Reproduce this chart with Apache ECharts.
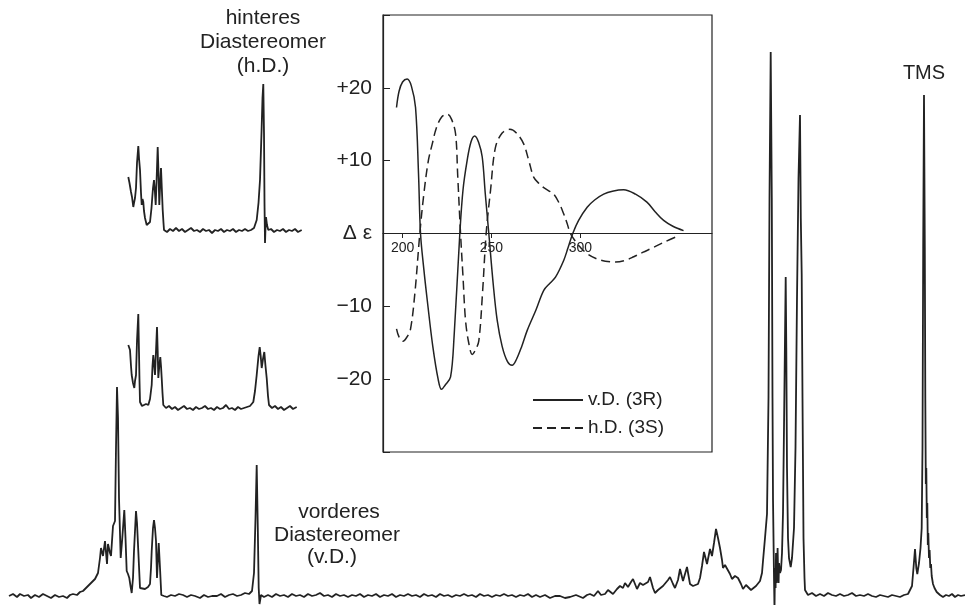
<!DOCTYPE html>
<html>
<head>
<meta charset="utf-8">
<script src="https://cdn.jsdelivr.net/npm/echarts@6/dist/echarts.min.js"></script>
<style>
  html, body { margin: 0; padding: 0; background: #fff; }
  #main { width: 965px; height: 605px; }
</style>
</head>
<body>
<div id="main"></div>
<script>
// NMR traces: [position, amplitude above baseline]
var vdTrace = [
  [9,2],[13,4],[17,1],[20,4],[24,2],[28,3],[31,0],[35,3],[39,1],[43,4],[47,2],[51,0],[55,3],[59,1],[63,2],[67,0],
  [70,3],[73,4],[77,3],[80,6],[83,7],[86,10],[88,12],[91,15],[93,13],[95,19],[98,25],[100,40],[101,50],[103,42],
  [105,57],[107,34],[108,54],[110,45],[111,42],[113,72],[115,77],[116,150],[117,211],[118,180],[119,100],[120.7,40],
  [122.3,60],[124.3,88],[125.5,60],[126.7,27],[128,24],[129.3,20],[130.5,12],[131.7,5],[133,20],[134,47],[136,87],
  [137,75],[138.3,47],[140,10],[142,8],[145,9],[148,11],[150,14],[151,30],[151.7,47],[153,70],[154,78],[155,70],
  [156,57],[157,20],[158,40],[158.7,55],[160,30],[161.3,3],[164,2],[167,1],[171,3],[175,2],[179,4],[183,3],[187,1],
  [191,3],[195,2],[200,0],[204,3],[208,1],[212,2],[217,2],[221,4],[225,1],[229,3],[233,4],[237,2],[241,3],[245,5],
  [249,4],[252,7],[254,25],[255.5,80],[256.7,133],[257.8,70],[258.7,10],[259.5,-6],[261,3],
  [264,1],[268,3],[272,1],[276,4],[280,2],[284,3],[288,1],[292,4],[296,2],[300,3],[304,1],[308,4],[312,2],[316,3],
  [320,5],[324,2],[328,3],[332,1],[336,4],[340,2],[344,3],[348,1],[352,3],[356,2],[360,4],[364,1],[368,3],[372,2],
  [376,4],[380,1],[384,3],[388,2],[392,4],[396,1],[400,3],[404,2],[408,4],[412,2],[416,3],[420,1],[424,4],[428,2],
  [432,3],[436,1],[440,4],[444,2],[448,3],[452,1],[456,3],[460,2],[464,4],[468,2],[472,3],[476,1],[480,4],[484,2],
  [488,3],[492,1],[496,3],[500,2],[504,4],[508,2],[512,3],[516,1],[520,3],[524,2],[528,4],[532,1],[536,3],[540,1],
  [545,3],[550,0],[555,2],[560,2],[565,0],[570,1],[576,3],[583,0],[587,3],[590,4],[594,2],[598,7],[601,3],[605,4],
  [608,8],[610,10],[613,4],[617,9],[620,12],[623,10],[625,15],[628,11],[631,16],[633,19],[637,9],[640,15],[643,13],
  [645,11],[648,16],[650,21],[653,10],[655,5],[658,8],[660,9],[663,12],[665,14],[668,18],[670,21],[673,14],[675,10],
  [678,18],[680,29],[683,17],[685,24],[687,31],[690,14],[693,12],[695,11],[698,14],[700,20],[702,32],[704,46],
  [707,34],[710,49],[712,42],[714,55],[716,69],[718,60],[720,50],[722,38],[723,30],[725,33],[727,32],[730,24],
  [732,19],[735,22],[738,20],[741,14],[743,9],[746,13],[748,11],[751,8],[753,9],[756,12],[758,14],[760,17],
  [762,25],[763,37],[765,60],[767,84],[768.5,200],[769.5,400],[770.7,546],[771.8,400],[772.5,200],[773,99],
  [773.5,60],[774,20],[774.5,-12],[775,30],[775.6,10],[776,45],[776.6,15],[777,23],[777.6,50],[778,30],[778.6,15],
  [779,35],[780,25],[781,28],[782,45],[783,85],[784,170],[785,260],[785.7,321],[786.3,250],[787,130],[788,60],
  [789,40],[790.7,31],[792,40],[794,70],[795.5,150],[797,300],[798.5,420],[800,483],[800.8,380],[801.7,324],
  [802.5,200],[803.5,60],[804.5,20],[805,8],[808,3],[812,5],[816,2],[820,4],[824,2],[828,5],[832,3],[836,2],
  [840,4],[844,2],[848,3],[852,5],[856,2],[860,3],[864,2],[868,4],[872,2],[876,1],[880,3],[884,2],[888,1],
  [892,3],[896,2],[900,1],[904,3],[908,4],[910,5],[912,12],[913.5,30],[915,49],[916.3,30],[917.3,24],[919,35],
  [920.5,50],[921.7,70],[922.5,150],[923.2,350],[924,503],[924.8,350],[925.3,200],[925.8,114],[926.3,130],
  [926.8,80],[927.3,95],[927.8,53],[928.3,65],[929,40],[929.6,48],[930.3,30],[931,34],[931.7,22],[933,14],
  [934.5,10],[936.7,6],[940,3],[943,1],[946,3],[949,2],[952,4],[955,1],[958,3],[961,2],[965,3]
];
var hdTrace = [
  [128.3,56],[129.5,50],[131,41],[132,36],[133.3,26],[134,30],[135,35],[136,45],[137,70],[138.3,87],[139,75],
  [140,63],[141,40],[141.7,28],[142.5,34],[143.3,31],[144,22],[145,15],[146.7,8],[148,9],[150,11],[151.5,25],
  [152.3,36],[153,45],[154,53],[155,40],[155.7,28],[156.5,50],[157.7,86],[158.5,60],[159.3,28],[160,45],[161,65],
  [161.8,45],[162.7,23],[163.5,10],[164,3],[167,1],[170,4],[173,2],[176,5],[179,2],[182,4],[185,1],[188,3],
  [191,5],[194,2],[197,3],[200,1],[203,4],[206,2],[209,3],[212,0],[215,3],[218,2],[221,4],[224,1],[227,3],
  [230,2],[233,4],[236,1],[239,3],[242,2],[245,4],[248,2],[251,3],[254,5],[256.7,13],[258.5,30],[260,53],
  [261.5,100],[262.5,135],[263.3,149],[264,100],[264.5,30],[265,-10],[265.5,5],[266,16],[267,8],[268.3,3],
  [271,4],[274,1],[277,3],[280,2],[283,4],[286,1],[289,3],[292,2],[295,4],[298,1],[301.7,3]
];
var midTrace = [
  [128.3,66],[130,61],[131,45],[131.7,36],[133,28],[134.3,23],[135,30],[136,36],[137,70],[138.3,97],[139,59],
  [139.5,30],[140,9],[142,5],[143.3,4],[146,7],[148.3,6],[150,12],[151.7,26],[152.5,45],[153.3,56],[154,48],
  [155,36],[156,60],[157,84],[157.7,60],[158.3,33],[159.3,45],[160.3,54],[161,45],[161.7,33],[162.5,18],
  [163.3,6],[166,3],[169,5],[172,2],[175,4],[178,1],[181,3],[184,5],[187,2],[190,3],[193,1],[196,4],[199,2],
  [202,3],[205,5],[208,2],[211,3],[214,1],[217,4],[220,2],[223,3],[226,6],[229,2],[232,3],[235,1],[238,4],
  [241,2],[244,3],[247,4],[250,5],[253.3,9],[255,20],[256.7,36],[258.5,55],[259.7,64],[260.7,55],[261.7,43],
  [263,52],[264.3,59],[265.5,45],[266.7,33],[268,15],[269,6],[272,3],[275,5],[278,2],[281,4],[284,1],[287,3],
  [290,5],[293,2],[296.7,4]
];

// CD spectra: wavelength (nm) and delta epsilon
var cdVdNm = [196.6,198,200,202.6,205,207.3,209,210.1,212,213.9,217,220,221.9,224,227,229,232.2,234,236.3,238.5,
  240.6,242.8,244.8,246.5,248.5,251,253.2,256,259,261.6,264,267,270.1,275,279.4,283,286,290.6,293,295.7,299,303.8,
  308,313.1,318,324.3,331,337.4,342,346.8,352,358];
var cdVdEps = [17.3,19.5,20.8,21.2,20.2,17.3,8,0,-5,-9.2,-15.5,-20,-21.4,-20.8,-19.7,-14,0,6,10,12.6,
  13.4,12.5,10.5,5.5,0,-7,-11.9,-15.5,-17.6,-18.1,-17.3,-15.5,-13.3,-10.5,-7.8,-6.8,-6,-3.7,-2,0,1.8,3.6,
  4.6,5.4,5.8,6.0,5.4,4.3,3.0,1.8,1.0,0.4];
var cdHdNm = [196.6,198,200.2,202.5,204.5,207,209.7,212,214.5,216.7,219,222,225.1,227.5,229.8,231,232.6,234,235.4,
  237.2,239.2,241,242.9,245,247,249.5,252.2,256,260.3,264,268.1,271,273.8,277,279.4,282,285,288,290.6,292.5,294.4,
  297,300,304,309.4,314,319.7,325,330,335,341.2,347,353.4];
var cdHdEps = [-13.1,-14.2,-14.8,-14.2,-13.1,-8,0,5.5,10,12.3,14.5,16,16.4,15.7,13.7,8,0,-6,-11.9,
  -15,-16.6,-16,-14.7,-8,0,6,11.8,13.8,14.3,13.8,12.3,10,7.7,6.8,6.3,5.9,5.4,4.2,2.7,1.4,0,
  -1,-1.9,-2.8,-3.5,-3.8,-3.9,-3.7,-3.2,-2.6,-1.9,-1.2,-0.5];
var cdTicks = [200, 250, 300];
var seriesNames = ['v.D. (3R)', 'h.D. (3S)'];

var ink = '#222';
var font = '"Liberation Sans", Arial, sans-serif';

function pairs(xs, ys) {
  var out = [];
  for (var i = 0; i < xs.length; i++) out.push([xs[i], ys[i]]);
  return out;
}

var myChart = echarts.init(document.getElementById('main'));

function hiddenX(i) {
  return { type: 'value', gridIndex: i, min: 0, max: 965, show: false };
}
function hiddenY(i, mn, mx) {
  return { type: 'value', gridIndex: i, min: mn, max: mx, show: false };
}
function trace(i, data) {
  return {
    type: 'line', xAxisIndex: i, yAxisIndex: i, data: data, symbol: 'none',
    silent: true, lineStyle: { color: ink, width: 1.8 }
  };
}

var option = {
  backgroundColor: '#fff',
  animation: false,
  grid: [
    { left: 0, right: 0, top: 40, bottom: 0 },
    { left: 0, right: 0, top: 80, bottom: 362 },
    { left: 0, right: 0, top: 300, bottom: 185 },
    { left: 383, width: 329, top: 15, height: 437, show: true, borderColor: ink, borderWidth: 1.2 }
  ],
  xAxis: [
    hiddenX(0), hiddenX(1), hiddenX(2),
    {
      type: 'value', gridIndex: 3, min: 189, max: 374, position: 'bottom', offset: -219,
      axisLine: { onZero: false, lineStyle: { color: ink, width: 1.2 } },
      axisTick: { customValues: cdTicks, length: 5, lineStyle: { color: ink } },
      axisLabel: { customValues: cdTicks, color: ink, fontSize: 14, fontFamily: font, margin: 8 },
      splitLine: { show: false }
    }
  ],
  yAxis: [
    hiddenY(0, -7, 558), hiddenY(1, -10, 153), hiddenY(2, -9, 111),
    {
      type: 'value', gridIndex: 3, min: -30, max: 30, interval: 10,
      axisLine: { show: true, lineStyle: { color: ink, width: 1.2 } },
      axisTick: { inside: true, length: 7, lineStyle: { color: ink } },
      axisLabel: {
        color: ink, fontSize: 21, fontFamily: font, margin: 11,
        formatter: function (v) {
          if (Math.abs(v) >= 30) return '';
          if (v === 0) return 'Δ ε';
          return v > 0 ? '+' + v : '−' + Math.abs(v);
        }
      },
      splitLine: { show: false }
    }
  ],
  legend: {
    data: seriesNames,
    orient: 'vertical',
    left: 527, top: 385,
    itemWidth: 50, itemHeight: 14, itemGap: 8,
    itemStyle: { opacity: 0 },
    textStyle: { color: ink, fontSize: 19, fontFamily: font, lineHeight: 20 }
  },
  graphic: [
    { type: 'text', style: { text: 'hinteres', x: 263, y: 18, textAlign: 'center', textVerticalAlign: 'middle', font: '21px ' + font, fill: ink } },
    { type: 'text', style: { text: 'Diastereomer', x: 263, y: 42, textAlign: 'center', textVerticalAlign: 'middle', font: '21px ' + font, fill: ink } },
    { type: 'text', style: { text: '(h.D.)', x: 263, y: 66, textAlign: 'center', textVerticalAlign: 'middle', font: '21px ' + font, fill: ink } },
    { type: 'text', style: { text: 'vorderes', x: 339, y: 512, textAlign: 'center', textVerticalAlign: 'middle', font: '21px ' + font, fill: ink } },
    { type: 'text', style: { text: 'Diastereomer', x: 337, y: 535, textAlign: 'center', textVerticalAlign: 'middle', font: '21px ' + font, fill: ink } },
    { type: 'text', style: { text: '(v.D.)', x: 332, y: 557, textAlign: 'center', textVerticalAlign: 'middle', font: '21px ' + font, fill: ink } },
    { type: 'text', style: { text: 'TMS', x: 924, y: 73, textAlign: 'center', textVerticalAlign: 'middle', font: '20px ' + font, fill: ink } }
  ],
  series: [
    trace(0, vdTrace),
    trace(1, hdTrace),
    trace(2, midTrace),
    {
      name: seriesNames[0], type: 'line', xAxisIndex: 3, yAxisIndex: 3,
      data: pairs(cdVdNm, cdVdEps), symbol: 'none', smooth: 0.35,
      lineStyle: { color: ink, width: 1.5 }, itemStyle: { color: ink }
    },
    {
      name: seriesNames[1], type: 'line', xAxisIndex: 3, yAxisIndex: 3,
      data: pairs(cdHdNm, cdHdEps), symbol: 'none', smooth: 0.35,
      lineStyle: { color: ink, width: 1.5, type: [9, 5] }, itemStyle: { color: ink }
    }
  ]
};
myChart.setOption(option);
</script>
</body>
</html>
